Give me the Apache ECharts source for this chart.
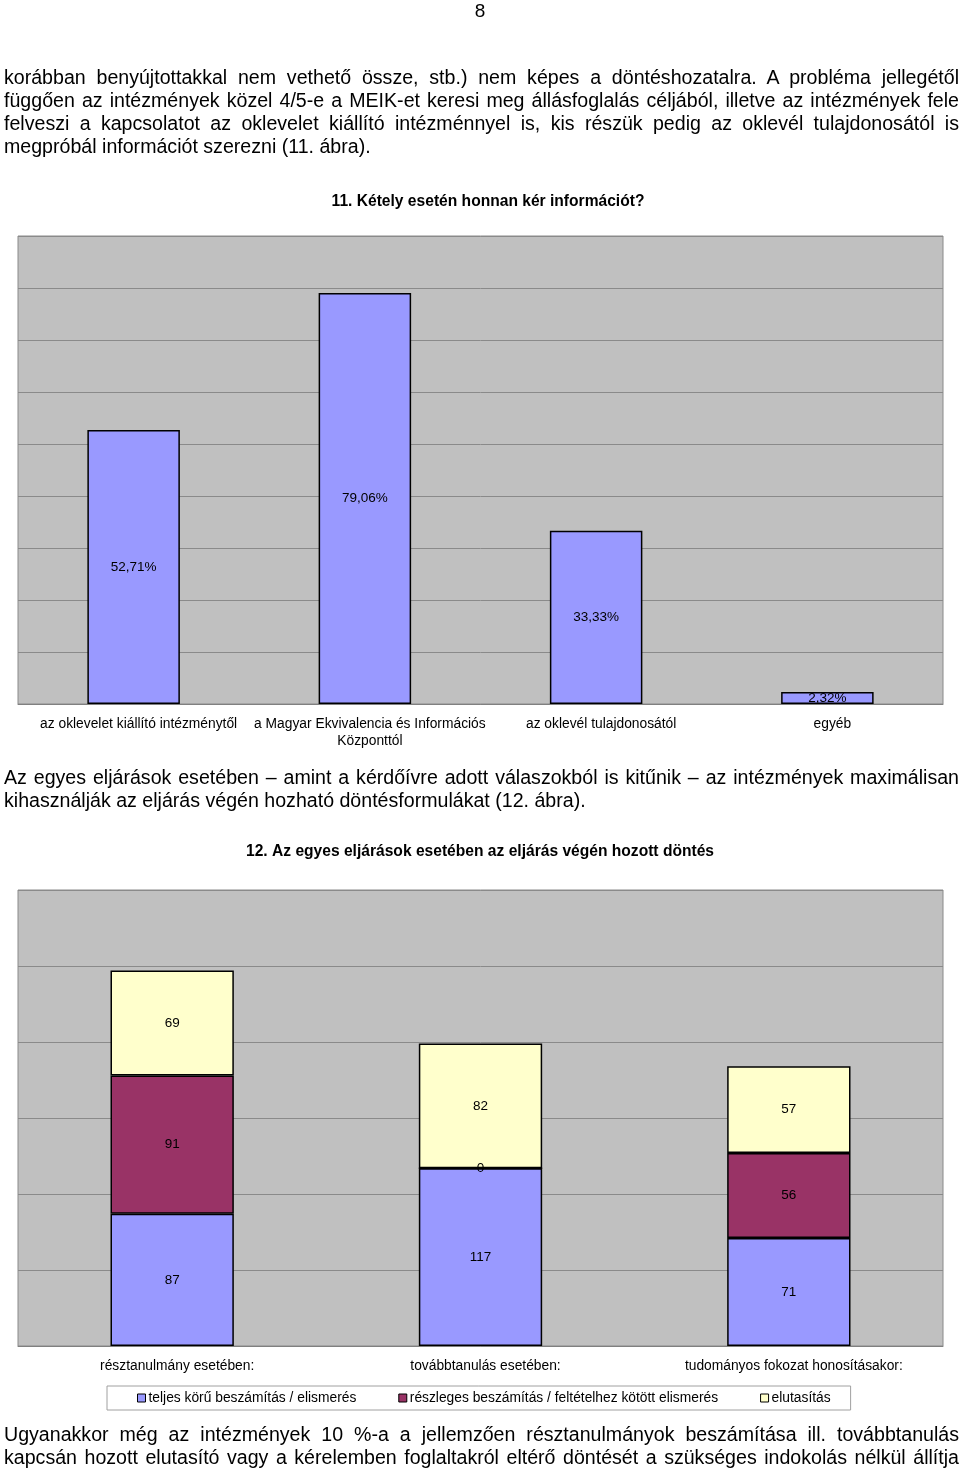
<!DOCTYPE html>
<html>
<head>
<meta charset="utf-8">
<script src="https://cdn.jsdelivr.net/npm/echarts@6/dist/echarts.min.js"></script>
<style>
  html, body { margin: 0; padding: 0; background: #fff; }
  #page { position: relative; width: 960px; height: 1470px; overflow: hidden; }
  #chart { position: absolute; left: 0; top: 0; width: 960px; height: 1470px; }
  .txt { position: absolute; left: 4px; width: 955px; font-family: Arial, "Liberation Sans", sans-serif; font-size: 19.6px; color: #000; z-index: 2; }
  .ln { height: 23px; line-height: 23px; overflow: hidden; text-align: justify; text-align-last: justify; }
  .ln.last { text-align: left; text-align-last: left; }
  #pno { position: absolute; left: 0; width: 960px; top: 0px; text-align: center; font-family: Arial, "Liberation Sans", sans-serif; font-size: 19px; z-index: 2; }
</style>
</head>
<body>
<div id="page">
  <div id="chart"></div>
  <div id="pno">8</div>
  <div class="txt" style="top:66px">
    <div class="ln">korábban benyújtottakkal nem vethető össze, stb.) nem képes a döntéshozatalra. A probléma jellegétől</div>
    <div class="ln">függően az intézmények közel 4/5-e a MEIK-et keresi meg állásfoglalás céljából, illetve az intézmények fele</div>
    <div class="ln">felveszi a kapcsolatot az oklevelet kiállító intézménnyel is, kis részük pedig az oklevél tulajdonosától is</div>
    <div class="ln last">megpróbál információt szerezni (11. ábra).</div>
  </div>
  <div class="txt" style="top:766px">
    <div class="ln">Az egyes eljárások esetében – amint a kérdőívre adott válaszokból is kitűnik – az intézmények maximálisan</div>
    <div class="ln last">kihasználják az eljárás végén hozható döntésformulákat (12. ábra).</div>
  </div>
  <div class="txt" style="top:1423px">
    <div class="ln">Ugyanakkor még az intézmények 10 %-a a jellemzően résztanulmányok beszámítása ill. továbbtanulás</div>
    <div class="ln">kapcsán hozott elutasító vagy a kérelemben foglaltakról eltérő döntését a szükséges indokolás nélkül állítja</div>
  </div>
</div>
<script>
// ---- Chart 11 data ----
var title11 = '11. Kétely esetén honnan kér információt?';
var categories11 = ['az oklevelet kiállító intézménytől', 'a Magyar Ekvivalencia és Információs\nKözponttól', 'az oklevél tulajdonosától', 'egyéb'];
var values11 = [52.71, 79.06, 33.33, 2.32];

// ---- Chart 12 data ----
var title12 = '12. Az egyes eljárások esetében az eljárás végén hozott döntés';
var categories12 = ['résztanulmány esetében:', 'továbbtanulás esetében:', 'tudományos fokozat honosításakor:'];
var seriesNames12 = ['teljes körű beszámítás / elismerés', 'részleges beszámítás / feltételhez kötött elismerés', 'elutasítás'];
var fullValues12 = [87, 117, 71];
var partialValues12 = [91, 0, 56];
var rejectValues12 = [69, 82, 57];

var FONT = 'Arial, "Liberation Sans", sans-serif';
var chart = echarts.init(document.getElementById('chart'), null, {renderer: 'canvas'});

function xAxisCfg(idx, data) {
  return {
    gridIndex: idx, type: 'category', data: data,
    axisLine: {lineStyle: {color: '#808080', width: 1}},
    axisTick: {length: 6, lineStyle: {color: '#a0a0a0'}},
    axisLabel: {color: '#000', fontSize: 13.8, fontFamily: FONT, margin: 12, interval: 0, lineHeight: 17, padding: [0, 0, 0, 10]}
  };
}
function yAxisCfg(idx, max, interval) {
  return {
    gridIndex: idx, type: 'value', min: 0, max: max, interval: interval,
    axisLine: {show: false}, axisTick: {show: false}, axisLabel: {show: false},
    splitLine: {lineStyle: {color: '#8a8a8a', width: 1}}
  };
}
var lbl = {show: true, position: 'inside', color: '#000', fontSize: 13.5, fontFamily: FONT};

var option = {
  animation: false,
  title: [
    {text: title11, left: 488, top: 194, textAlign: 'center', padding: 0,
     textStyle: {fontSize: 15.6, fontWeight: 'bold', fontFamily: FONT, color: '#000'}},
    {text: title12, left: 480, top: 844, textAlign: 'center', padding: 0,
     textStyle: {fontSize: 15.6, fontWeight: 'bold', fontFamily: FONT, color: '#000'}}
  ],
  grid: [
    {left: 18, top: 236, width: 925, height: 468, show: true, backgroundColor: '#C0C0C0', borderColor: '#8a8a8a', borderWidth: 1},
    {left: 18, top: 890, width: 925, height: 456, show: true, backgroundColor: '#C0C0C0', borderColor: '#8a8a8a', borderWidth: 1}
  ],
  xAxis: [xAxisCfg(0, categories11), xAxisCfg(1, categories12)],
  yAxis: [yAxisCfg(0, 90, 10), yAxisCfg(1, 300, 50)],
  legend: {
    data: seriesNames12,
    left: 107, top: 1386,
    padding: [5, 20, 5, 30],
    itemGap: 42,
    itemWidth: 8, itemHeight: 8,
    icon: 'rect',
    itemStyle: {borderColor: '#000', borderWidth: 1},
    backgroundColor: '#fff', borderColor: '#a0a0a0', borderWidth: 1,
    textStyle: {color: '#000', fontSize: 13.8, fontFamily: FONT, padding: [0, 0, 0, -2]}
  },
  series: [
    {type: 'bar', name: 'c11', xAxisIndex: 0, yAxisIndex: 0, data: values11, barWidth: '40%',
     itemStyle: {color: '#9999FF', borderColor: '#000', borderWidth: 1.5},
     label: Object.assign({}, lbl, {formatter: function (p) { return p.value.toFixed(2).replace('.', ',') + '%'; }})},
    {type: 'bar', name: seriesNames12[0], xAxisIndex: 1, yAxisIndex: 1, stack: 's', data: fullValues12, barWidth: '40%',
     itemStyle: {color: '#9999FF', borderColor: '#000', borderWidth: 1.5}, label: lbl},
    {type: 'bar', name: seriesNames12[1], xAxisIndex: 1, yAxisIndex: 1, stack: 's', data: partialValues12, barWidth: '40%',
     itemStyle: {color: '#993366', borderColor: '#000', borderWidth: 1.5}, label: lbl},
    {type: 'bar', name: seriesNames12[2], xAxisIndex: 1, yAxisIndex: 1, stack: 's', data: rejectValues12, barWidth: '40%',
     itemStyle: {color: '#FFFFCC', borderColor: '#000', borderWidth: 1.5}, label: lbl}
  ]
};
chart.setOption(option);
</script>
</body>
</html>
